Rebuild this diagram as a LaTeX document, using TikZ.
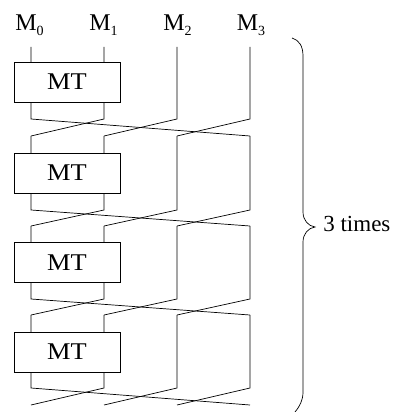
\documentclass[tikz,border=0pt]{standalone}
\usepackage{fontspec}
\setmainfont{Liberation Serif}
\newcommand\msub[1]{M\raisebox{-5pt}{\fontsize{14}{14}\selectfont #1}}
\begin{document}
\begin{tikzpicture}[x=1pt,y=-1pt, line width=0.7pt,
  mt/.style={draw, fill=white, minimum width=106pt, minimum height=40pt, inner sep=0pt, font=\fontsize{24}{26}\selectfont},
  lbl/.style={anchor=base west, inner sep=0pt, font=\fontsize{24}{26}\selectfont}]
\useasboundingbox (0,0) rectangle (395,412);
\foreach \k/\t/\bt/\bb/\v/\e in {0/47/62/102/119/136, 1/136/153/193/210/226, 2/226/242/283/299/315, 3/315/332/372/388/405} {
  \foreach \c/\x/\nx in {0/31/250, 1/104/31, 2/177/104, 3/250/177} {
    \coordinate (t\k\c) at (\x,\t);
    \coordinate (v\k\c) at (\x,\v);
    \coordinate (e\k\c) at (\nx,\e);
    \draw (t\k\c) -- (v\k\c) -- (e\k\c);
  }
  \node[mt] (mt\k) at (67,{(\bt+\bb)/2}) {\scalebox{1.1}[1]{MT}};
}
\node[lbl] (m0) at (15,31) {\msub{0}};
\node[lbl] (m1) at (89,31) {\msub{1}};
\node[lbl] (m2) at (163,31) {\msub{2}};
\node[lbl] (m3) at (236.5,31) {\msub{3}};
\draw (292,38) .. controls (299,40) and (303,46) .. (303,56) -- (303,212) .. controls (303,220) and (308,226) .. (315,227) .. controls (308,228) and (303,234) .. (303,242) -- (303,392) .. controls (303,400) and (300,406) .. (295,412);
\node[lbl, font=\fontsize{23}{25}\selectfont] (times) at (323,231) {3 times};
\end{tikzpicture}
\end{document}
